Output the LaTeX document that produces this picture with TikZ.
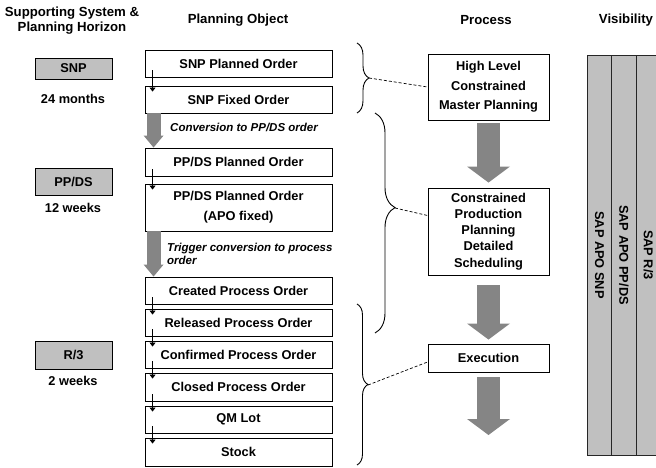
\documentclass[tikz,border=0pt]{standalone}
\usepackage{fontspec}
\setmainfont{Liberation Sans}
\usetikzlibrary{positioning,arrows.meta,decorations.pathreplacing}

\definecolor{boxgray}{HTML}{C0C0C0}
\definecolor{arrowgray}{HTML}{858585}

\begin{document}
\begin{tikzpicture}[x=1pt,y=-1pt,
    every node/.style={font=\fontsize{12.8}{15}\selectfont\bfseries, inner sep=0pt},
    obj/.style={draw, line width=0.9pt, minimum width=187pt, minimum height=27pt, align=center},
    sys/.style={draw, line width=0.9pt, fill=boxgray, minimum width=77pt, minimum height=27pt},
    proc/.style={draw, line width=0.9pt, minimum width=121pt, align=center},
    head/.style={font=\fontsize{13.2}{15}\selectfont\bfseries, align=center},
    note/.style={font=\fontsize{11.5}{13}\selectfont\bfseries\itshape, align=left, anchor=west},
    visbar/.style={draw=black!85, line width=0.9pt, fill=boxgray, rotate=-90,
        minimum width=400pt, minimum height=24.5pt},
    smallarrow/.style={line width=0.7pt, -{Triangle[width=6pt,length=4pt]}},
    bigarrow/.style={arrowgray, line width=14pt, -{Triangle[width=20pt,length=12pt,line width=0pt]}},
    procarrow/.style={arrowgray, line width=23pt, -{Triangle[width=43pt,length=16pt,line width=0pt]}},
    bracket/.style={decorate, line width=0.9pt},
    link/.style={line width=0.7pt, dash pattern=on 3pt off 2pt}]
    \useasboundingbox (0,0) rectangle (656,468);

    % column headers
    \node[head] (hsys) at (72,20.5) {Supporting System \&\\Planning Horizon};
    \node[head] (hobj) at (238,20) {Planning Object};
    \node[head] (hproc) at (486,20) {Process};
    \node[head] (hvis) at (626,20) {Visibility};

    % supporting systems
    \node[sys, minimum height=21pt] (snpsys) at (73.5,68.5) {SNP};
    \node (snphor) at (73,99) {24 months};
    \node[sys] (ppdssys) at (73.5,181.5) {PP/DS};
    \node (ppdshor) at (73,208) {12 weeks};
    \node[sys, minimum height=28pt] (r3sys) at (73.5,355) {R/3};
    \node (r3hor) at (73,381) {2 weeks};

    % planning objects
    \node[obj] (snpplan) at (238.5,63.5) {SNP Planned Order};
    \node[obj] (snpfix) at (238.5,99.5) {SNP Fixed Order};
    \node[obj, minimum height=28pt] (ppdsplan) at (238.5,162) {PP/DS Planned Order};
    \node[obj, minimum height=47pt, font=\fontsize{12.8}{20}\selectfont\bfseries] (ppdsfix) at (238.5,207.5)
        {PP/DS Planned Order\\(APO fixed)};
    \node[obj] (created) at (238.5,290.5) {Created Process Order};
    \node[obj] (released) at (238.5,322.5) {Released Process Order};
    \node[obj] (confirmed) at (238.5,354.5) {Confirmed Process Order};
    \node[obj, minimum height=28pt] (closed) at (238.5,387) {Closed Process Order};
    \node[obj] (qmlot) at (238.5,419.5) {QM Lot};
    \node[obj, minimum height=28pt] (stock) at (238.5,452) {Stock};

    \foreach \a/\b in {snpplan/snpfix, ppdsplan/ppdsfix, created/released, released/confirmed,
        confirmed/closed, closed/qmlot, qmlot/stock}
        \draw[smallarrow] ([shift={(8pt,7pt)}]\a.south west) -- ([shift={(8pt,-6pt)}]\b.north west);

    % conversions
    \draw[bigarrow] ([xshift=9pt]snpfix.south west) -- ([xshift=9pt]ppdsplan.north west);
    \node[note] (conv) at (170,127) {Conversion to PP/DS order};
    \draw[bigarrow] ([xshift=9pt]ppdsfix.south west) -- ([xshift=9pt]created.north west);
    \node[note] (trigger) at (167,253.5) {Trigger conversion to process\\order};

    % processes
    \node[proc, minimum height=66pt, font=\fontsize{12.8}{19.5}\selectfont\bfseries] (hl) at (488.5,87)
        {High Level\\Constrained\\Master Planning};
    \node[proc, minimum height=87pt, font=\fontsize{12.8}{16.2}\selectfont\bfseries] (cpp) at (488.5,231.5)
        {Constrained\\Production\\Planning\\Detailed\\Scheduling};
    \node[proc, minimum height=28pt] (exec) at (488.5,358) {Execution};
    \coordinate (execend) at (488.5,435);

    \draw[procarrow] ([yshift=-3pt]hl.south) -- ([yshift=5pt]cpp.north);
    \draw[procarrow] ([yshift=-10pt]cpp.south) -- ([yshift=4pt]exec.north);
    \draw[procarrow] ([yshift=-5pt]exec.south) -- (execend);

    % braces
    \coordinate (snptop) at (357,43);
    \coordinate (snpbot) at (357,113);
    \coordinate (snptip) at (369,78);
    \coordinate (ppdstop) at (375,113);
    \coordinate (ppdsbot) at (375,333);
    \coordinate (ppdstip) at (395,208);
    \coordinate (r3top) at (357,304);
    \coordinate (r3bot) at (357,465);
    \coordinate (r3tip) at (368,385);

    \draw[bracket, decoration={brace, amplitude=12pt}] (snptop) -- (snpbot);
    \draw[bracket, decoration={brace, amplitude=20pt, aspect=0.43}] (ppdstop) -- (ppdsbot);
    \draw[bracket, decoration={brace, amplitude=11pt}] (r3top) -- (r3bot);

    \draw[link] (snptip) -- (hl.west);
    \draw[link] (ppdstip) -- ([yshift=16pt]cpp.west);
    \draw[link] (r3tip) -- ([yshift=-4pt]exec.west);

    % visibility
    \node[visbar] (vissnp) at (599.5,255) {SAP APO SNP};
    \node[visbar] (visppds) at (624,255) {SAP APO PP/DS};
    \node[visbar] (visr3) at (648.5,255) {SAP R/3};
\end{tikzpicture}
\end{document}
